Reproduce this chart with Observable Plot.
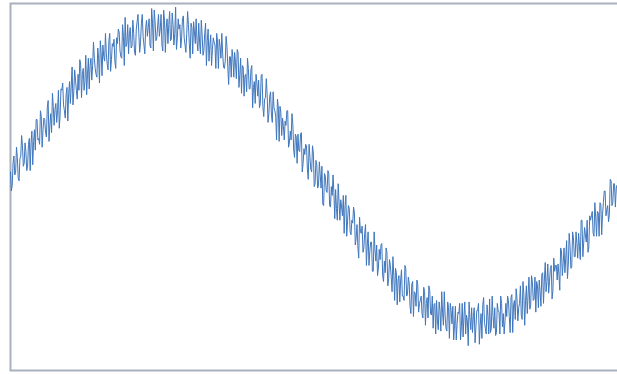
<!DOCTYPE html>
<html>
<head>
<meta charset="utf-8">
<script src="https://cdn.jsdelivr.net/npm/d3@7"></script>
<script src="https://cdn.jsdelivr.net/npm/@observablehq/plot@0.6"></script>
<style>
  html, body { margin: 0; padding: 0; background: #fff; overflow: hidden; }
  #chart { width: 617px; height: 374px; overflow: hidden; }
</style>
</head>
<body>
<div id="chart"></div>
<script>
// Noisy signal sampled at whole degrees, 0°..360°
const wholeDegree = [
  0.03, -0.06, 0.14, 0.03, 0.13, -0.03, 0.14, 0.21, 0.09, 0.17,
  0.07, 0.26, 0.23, 0.08, 0.32, 0.39, 0.25, 0.22, 0.41, 0.32,
  0.39, 0.27, 0.52, 0.35, 0.30, 0.48, 0.46, 0.37, 0.59, 0.42,
  0.59, 0.49, 0.40, 0.61, 0.57, 0.50, 0.75, 0.58, 0.66, 0.53,
  0.59, 0.77, 0.70, 0.59, 0.83, 0.70, 0.60, 0.81, 0.76, 0.81,
  0.70, 0.88, 0.64, 0.84, 0.90, 0.79, 0.84, 0.73, 0.98, 0.80,
  0.89, 0.79, 0.95, 1.01, 0.86, 0.81, 0.96, 1.09, 0.91, 0.84,
  1.02, 0.89, 0.98, 0.83, 1.06, 0.98, 0.92, 1.11, 0.90, 1.02,
  0.96, 1.08, 0.88, 1.05, 1.14, 0.93, 1.03, 0.96, 1.11, 0.86,
  1.07, 1.02, 0.91, 1.13, 0.94, 1.04, 0.98, 0.87, 1.08, 1.04,
  0.95, 1.10, 0.90, 0.98, 1.04, 0.81, 1.02, 1.06, 0.91, 0.93,
  1.05, 0.84, 0.97, 0.86, 1.05, 0.93, 0.79, 0.97, 0.87, 0.92,
  0.74, 0.92, 0.94, 0.81, 0.84, 0.74, 0.96, 0.75, 0.82, 0.68,
  0.81, 0.85, 0.67, 0.85, 0.70, 0.57, 0.75, 0.69, 0.58, 0.74,
  0.60, 0.76, 0.61, 0.50, 0.64, 0.66, 0.50, 0.70, 0.41, 0.54,
  0.56, 0.43, 0.58, 0.37, 0.47, 0.41, 0.53, 0.24, 0.44, 0.40,
  0.25, 0.35, 0.45, 0.23, 0.25, 0.36, 0.13, 0.27, 0.29, 0.17,
  0.30, 0.09, 0.15, 0.21, -0.02, 0.13, 0.03, 0.16, -0.05, 0.08,
  -0.06, 0.01, 0.07, -0.20, 0.00, -0.11, 0.02, -0.21, -0.13, -0.11,
  -0.09, -0.30, -0.17, -0.16, -0.27, -0.39, -0.13, -0.30, -0.22, -0.40,
  -0.32, -0.25, -0.42, -0.48, -0.28, -0.39, -0.52, -0.39, -0.61, -0.38,
  -0.51, -0.45, -0.65, -0.50, -0.47, -0.63, -0.57, -0.46, -0.72, -0.66,
  -0.52, -0.70, -0.61, -0.79, -0.68, -0.63, -0.88, -0.68, -0.71, -0.82,
  -0.85, -0.63, -0.81, -0.73, -0.94, -0.72, -0.79, -0.89, -0.74, -0.87,
  -0.82, -0.97, -0.79, -0.87, -0.97, -0.78, -0.95, -1.04, -0.87, -0.85,
  -1.05, -0.92, -0.79, -1.02, -0.95, -1.06, -0.90, -0.87, -1.01, -1.12,
  -0.89, -1.01, -0.94, -1.12, -0.87, -0.96, -1.08, -0.99, -0.86, -1.05,
  -1.07, -0.90, -1.03, -0.92, -1.15, -0.94, -0.88, -1.00, -1.08, -0.96,
  -0.84, -1.04, -0.96, -0.90, -1.07, -0.92, -1.08, -0.87, -0.94, -0.99,
  -0.96, -0.85, -1.07, -0.81, -0.88, -0.98, -0.84, -0.90, -0.75, -0.98,
  -0.81, -0.85, -0.94, -0.69, -0.88, -0.72, -0.84, -0.93, -0.75, -0.71,
  -0.89, -0.66, -0.71, -0.79, -0.60, -0.72, -0.61, -0.78, -0.65, -0.61,
  -0.60, -0.78, -0.51, -0.59, -0.66, -0.44, -0.60, -0.48, -0.62, -0.42,
  -0.55, -0.46, -0.39, -0.57, -0.30, -0.45, -0.40, -0.30, -0.48, -0.30,
  -0.24, -0.41, -0.28, -0.24, -0.41, -0.19, -0.26, -0.10, -0.27, -0.20,
  -0.26, -0.03, -0.18, -0.05, -0.08, -0.20, 0.08, -0.08, 0.03, -0.10,
  0.04
];

// The same signal sampled halfway between, 0.5°..359.5°
const halfDegree = [
  -0.10, 0.09, 0.01, 0.20, -0.01, 0.12, 0.28, 0.07, 0.23, 0.04,
  0.22, 0.04, 0.31, 0.24, 0.18, 0.39, 0.26, 0.45, 0.20, 0.40,
  0.30, 0.47, 0.24, 0.43, 0.57, 0.35, 0.50, 0.45, 0.33, 0.60,
  0.64, 0.45, 0.56, 0.38, 0.65, 0.62, 0.49, 0.73, 0.59, 0.70,
  0.80, 0.54, 0.74, 0.65, 0.56, 0.81, 0.76, 0.66, 0.92, 0.74,
  0.68, 0.81, 0.93, 0.69, 0.82, 0.98, 0.77, 0.93, 0.72, 0.91,
  0.94, 0.74, 0.91, 0.99, 0.82, 1.04, 0.76, 0.89, 1.04, 0.98,
  0.88, 1.07, 0.85, 1.01, 1.11, 0.85, 1.05, 0.96, 0.84, 1.07,
  1.02, 0.90, 1.15, 0.86, 1.06, 0.95, 1.11, 1.01, 0.90, 1.14,
  0.85, 1.08, 1.04, 0.93, 1.12, 0.90, 1.16, 0.95, 1.01, 0.88,
  1.08, 0.95, 0.85, 1.13, 0.91, 1.05, 0.84, 0.99, 1.08, 0.86,
  0.92, 1.07, 0.83, 0.98, 0.76, 1.01, 0.90, 0.76, 0.95, 0.90,
  0.98, 0.74, 0.89, 0.98, 0.75, 0.79, 0.89, 0.63, 0.82, 0.87,
  0.68, 0.78, 0.87, 0.61, 0.81, 0.76, 0.55, 0.70, 0.81, 0.60,
  0.73, 0.47, 0.65, 0.70, 0.55, 0.47, 0.69, 0.48, 0.53, 0.67,
  0.37, 0.55, 0.42, 0.58, 0.45, 0.25, 0.48, 0.48, 0.28, 0.34,
  0.38, 0.45, 0.20, 0.31, 0.43, 0.18, 0.29, 0.09, 0.18, 0.29,
  0.03, 0.19, 0.22, 0.05, 0.22, 0.05, 0.21, -0.07, 0.11, -0.08,
  0.10, -0.08, -0.19, 0.02, -0.10, 0.04, -0.20, -0.07, 0.01, -0.29,
  -0.22, -0.05, -0.30, -0.21, -0.13, -0.20, -0.41, -0.20, -0.38, -0.30,
  -0.21, -0.47, -0.33, -0.56, -0.38, -0.34, -0.49, -0.33, -0.47, -0.61,
  -0.45, -0.65, -0.38, -0.58, -0.68, -0.50, -0.47, -0.68, -0.58, -0.49,
  -0.75, -0.57, -0.69, -0.55, -0.85, -0.66, -0.71, -0.86, -0.64, -0.82,
  -0.61, -0.82, -0.69, -0.89, -0.74, -0.96, -0.80, -0.71, -0.93, -0.85,
  -0.94, -0.76, -1.02, -0.83, -0.75, -0.94, -0.82, -0.88, -1.08, -0.99,
  -0.86, -1.06, -0.93, -0.79, -1.04, -0.86, -1.11, -0.92, -0.89, -1.02,
  -1.12, -0.93, -0.87, -1.03, -1.10, -0.86, -0.95, -1.16, -0.97, -0.90,
  -0.96, -1.14, -0.92, -0.87, -1.02, -1.11, -0.83, -1.04, -0.88, -1.08,
  -1.07, -0.82, -1.04, -1.09, -0.87, -0.93, -0.82, -1.03, -1.08, -0.87,
  -0.82, -0.96, -0.83, -1.07, -0.85, -0.77, -0.99, -0.87, -0.95, -0.72,
  -1.02, -0.75, -0.81, -0.91, -0.68, -0.85, -0.69, -0.72, -0.90, -0.79,
  -0.67, -0.87, -0.59, -0.72, -0.80, -0.63, -0.84, -0.56, -0.61, -0.71,
  -0.67, -0.49, -0.68, -0.49, -0.56, -0.70, -0.39, -0.63, -0.38, -0.55,
  -0.38, -0.56, -0.48, -0.30, -0.55, -0.35, -0.45, -0.52, -0.27, -0.27,
  -0.39, -0.18, -0.41, -0.25, -0.18, -0.40, -0.18, -0.10, -0.23, -0.31,
  -0.02, -0.20, -0.05, -0.21, -0.06, 0.04, -0.20, 0.03, -0.04, 0.10
];

// Merge both sample sets into one series ordered by angle
const points = [
  ...wholeDegree.map((value, i) => ({angle: i, value})),
  ...halfDegree.map((value, i) => ({angle: i + 0.5, value}))
].sort((a, b) => a.angle - b.angle);

const chart = Plot.plot({
  width: 640,
  height: 374,
  marginLeft: 10,
  marginRight: 14,
  marginTop: 3,
  marginBottom: 4,
  x: {domain: [0, 360], axis: null},
  y: {domain: [-1.33, 1.185], axis: null},
  marks: [
    Plot.frame({stroke: "#a9b1bd", strokeWidth: 2}),
    Plot.line(points, {x: "angle", y: "value", stroke: "#3f76bd", strokeWidth: 1})
  ]
});
chart.style.maxWidth = "none";
document.getElementById("chart").appendChild(chart);
</script>
</body>
</html>
